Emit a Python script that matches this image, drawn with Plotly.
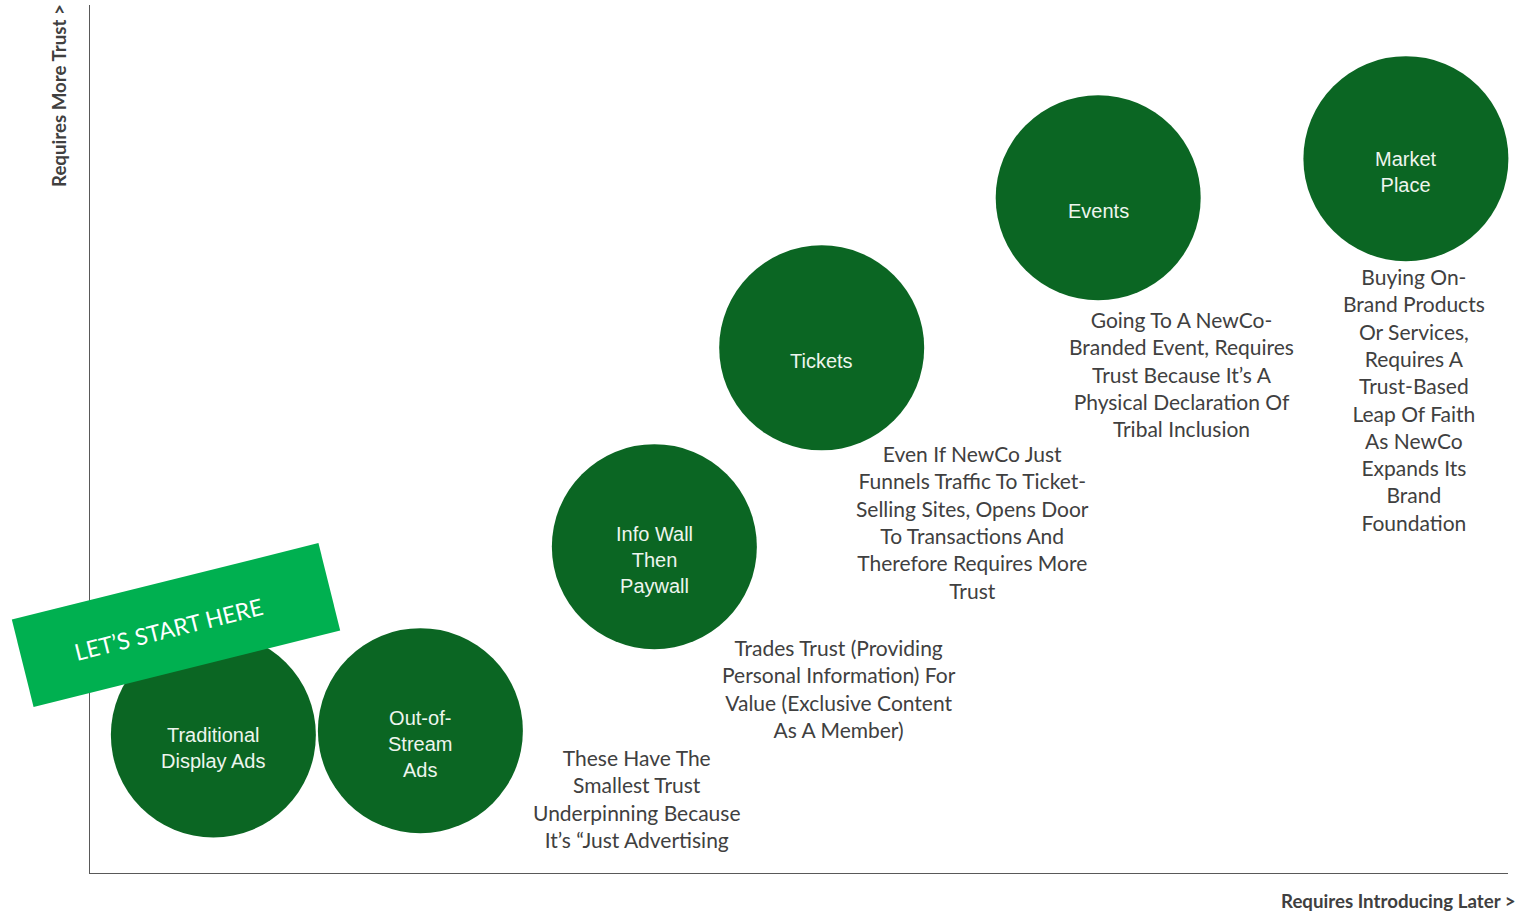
import math
import plotly.graph_objects as go

# Offerings placed by how late they are introduced (x) and how much trust they need (y), 0-100 scale
offerings = ["Traditional<br>Display Ads", "Out-of-<br>Stream<br>Ads", "Info Wall<br>Then<br>Paywall",
             "Tickets", "Events", "Market<br>Place"]
introduced_later = [8.7, 23.3, 39.8, 51.6, 71.1, 92.8]
requires_trust = [15.9, 16.4, 37.6, 60.5, 77.8, 82.3]

# Explanatory notes and where they sit on the same scale
notes = [
    "These Have The<br>Smallest Trust<br>Underpinning Because<br>It’s “Just Advertising",
    "Trades Trust (Providing<br>Personal Information) For<br>Value (Exclusive Content<br>As A Member)",
    "Even If NewCo Just<br>Funnels Traffic To Ticket-<br>Selling Sites, Opens Door<br>To Transactions And<br>Therefore Requires More<br>Trust",
    "Going To A NewCo-<br>Branded Event, Requires<br>Trust Because It’s A<br>Physical Declaration Of<br>Tribal Inclusion",
    "Buying On-<br>Brand Products<br>Or Services,<br>Requires A<br>Trust-Based<br>Leap Of Faith<br>As NewCo<br>Expands Its<br>Brand<br>Foundation",
]
note_x = [38.6, 52.8, 62.2, 77.0, 93.4]
note_y = [8.6, 21.2, 40.4, 57.5, 54.5]

x_title = "Requires Introducing Later >"
y_title = "Requires More Trust >"
start_label = "LET’S START HERE"

W, H = 1515, 912
ML, MR, MT, MB = 90, 7, 5, 39
PW, PH = W - ML - MR, H - MT - MB

DARK_GREEN = "#0b6623"
BRIGHT_GREEN = "#00b050"
TEXT_GREY = "#404040"
NOTE_FONT = "Lato, Carlito, Calibri"

fig = go.Figure()
fig.add_trace(go.Scatter(
    x=introduced_later, y=requires_trust, mode="markers",
    marker=dict(size=205, color=DARK_GREEN, line=dict(width=0)),
    cliponaxis=False, hoverinfo="skip", showlegend=False,
))

annotations = []
# Circle labels, sitting a little below each circle's centre
for t, cx_, cy_ in zip(offerings, introduced_later, requires_trust):
    annotations.append(dict(
        x=cx_, y=cy_, xref="x", yref="y", text=t, showarrow=False, yshift=-13,
        font=dict(family="Liberation Sans, Arial", size=20, color="#eef5ee"),
        align="center", xanchor="center", yanchor="middle",
    ))

for t, nx, ny in zip(notes, note_x, note_y):
    annotations.append(dict(
        x=nx, y=ny, xref="x", yref="y", text=t, showarrow=False,
        font=dict(family=NOTE_FONT, size=21, color=TEXT_GREY),
        align="center", xanchor="center", yanchor="middle",
    ))


def to_paper(px, py):
    return (px - ML) / PW, (H - MB - py) / PH


# Rotated "start here" banner
cx, cy, bw, bh, ang = 176, 625, 316, 90, math.radians(-14)
corners = []
for dx, dy in [(-bw / 2, -bh / 2), (bw / 2, -bh / 2), (bw / 2, bh / 2), (-bw / 2, bh / 2)]:
    rx = cx + dx * math.cos(ang) - dy * math.sin(ang)
    ry = cy + dx * math.sin(ang) + dy * math.cos(ang)
    corners.append(to_paper(rx, ry))
path = "M " + " L ".join(f"{a:.5f},{b:.5f}" for a, b in corners) + " Z"

shapes = [dict(type="path", xref="paper", yref="paper", path=path,
               fillcolor=BRIGHT_GREEN, line=dict(width=0), layer="above")]

tx, ty = to_paper(168, 629)
annotations.append(dict(
    x=tx, y=ty, xref="paper", yref="paper", text=start_label, showarrow=False,
    textangle=-14, font=dict(family=NOTE_FONT, size=23, color="white"),
    xanchor="center", yanchor="middle",
))

# Axis captions
ax, ay = to_paper(59, 96)
annotations.append(dict(
    x=ax, y=ay, xref="paper", yref="paper", text=f"<b>{y_title}</b>", showarrow=False,
    textangle=-90, font=dict(family=NOTE_FONT, size=18.7, color=TEXT_GREY),
    xanchor="center", yanchor="middle",
))
bx, by = to_paper(1518, 901)
annotations.append(dict(
    x=bx, y=by, xref="paper", yref="paper", text=f"<b>{x_title}</b>", showarrow=False,
    font=dict(family=NOTE_FONT, size=18.7, color=TEXT_GREY),
    xanchor="right", yanchor="middle",
))

fig.update_layout(
    width=W, height=H,
    margin=dict(l=ML, r=MR, t=MT, b=MB),
    paper_bgcolor="white", plot_bgcolor="white",
    xaxis=dict(range=[0, 100], showgrid=False, zeroline=False, showticklabels=False,
               ticks="", showline=True, linecolor="#595959", linewidth=1, fixedrange=True),
    yaxis=dict(range=[0, 100], showgrid=False, zeroline=False, showticklabels=False,
               ticks="", showline=True, linecolor="#595959", linewidth=1, fixedrange=True),
    shapes=shapes, annotations=annotations,
)

fig.write_html("out.html")
